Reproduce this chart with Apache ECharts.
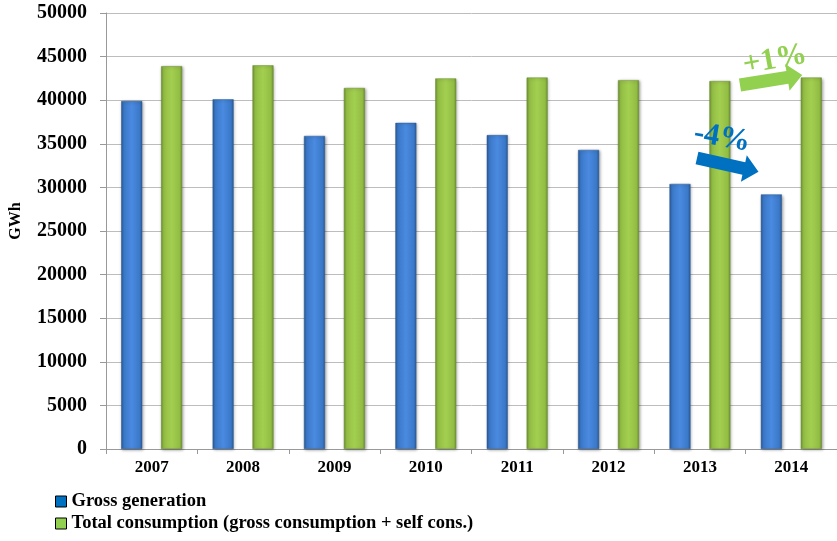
<!DOCTYPE html>
<html>
<head>
<meta charset="utf-8">
<script src="https://cdn.jsdelivr.net/npm/echarts@6/dist/echarts.min.js"></script>
<style>html,body{margin:0;padding:0;background:#fff}#c{width:837px;height:541px}</style>
</head>
<body>
<div id="c"></div>
<script>
var years = ['2007','2008','2009','2010','2011','2012','2013','2014'];
var grossGeneration = [39900, 40100, 35900, 37400, 36000, 34300, 30400, 29200];
var totalConsumption = [43900, 44000, 41400, 42500, 42600, 42300, 42200, 42600];
var seriesNames = ['Gross generation', 'Total consumption (gross consumption + self cons.)'];
var yTicks = [0, 50000, 5000];

var FONT = '"Liberation Serif", "Times New Roman", serif';
var chart = echarts.init(document.getElementById('c'));

function barGrad(edge, mid, light) {
  return new echarts.graphic.LinearGradient(0, 0, 1, 0, [
    {offset: 0, color: edge},
    {offset: 0.12, color: mid},
    {offset: 0.5, color: light},
    {offset: 0.88, color: mid},
    {offset: 1, color: edge}
  ]);
}

function arrow(x, y, len, shaft, headLen, headW, angle, color) {
  var h = shaft / 2, hw = headW / 2;
  var pts = [[0, -h], [len - headLen, -h], [len - headLen, -hw], [len, 0], [len - headLen, hw], [len - headLen, h], [0, h]];
  return {
    type: 'polygon', x: x, y: y, rotation: angle, originX: 0, originY: 0,
    shape: {points: pts}, style: {fill: color}, z: 100
  };
}

chart.setOption({
  animation: false,
  grid: {left: 106, right: 0, top: 13, bottom: 92, containLabel: false},
  legend: {
    orient: 'vertical', left: 55, top: 492, itemWidth: 11, itemHeight: 11, itemGap: 3,
    icon: 'rect', padding: 0,
    textStyle: {fontFamily: FONT, fontWeight: 'bold', fontSize: 18.5, color: '#000'},
    data: [
      {name: seriesNames[0], itemStyle: {color: '#0070c0', borderColor: '#000', borderWidth: 1}},
      {name: seriesNames[1], itemStyle: {color: '#92d050', borderColor: '#000', borderWidth: 1}}
    ]
  },
  xAxis: {
    type: 'category', data: years,
    axisLine: {lineStyle: {color: '#999'}},
    axisTick: {show: true, length: 5, lineStyle: {color: '#999'}},
    axisLabel: {fontFamily: FONT, fontWeight: 'bold', fontSize: 17, color: '#000', margin: 10}
  },
  yAxis: {
    type: 'value', min: yTicks[0], max: yTicks[1], interval: yTicks[2],
    name: 'GWh', nameLocation: 'middle', nameGap: 82, nameRotate: 90,
    nameTextStyle: {fontFamily: FONT, fontWeight: 'bold', fontSize: 16, color: '#000', padding: [0, 0, 0, 20]},
    axisLine: {show: true, lineStyle: {color: '#999'}},
    axisTick: {show: true, length: 6, lineStyle: {color: '#999'}},
    axisLabel: {fontFamily: FONT, fontWeight: 'bold', fontSize: 20, color: '#000', margin: 19,
      formatter: function (v) { return String(v); }},
    splitLine: {lineStyle: {color: '#bdbdbd', width: 1}}
  },
  series: [
    {
      name: seriesNames[0], type: 'bar', data: grossGeneration, barWidth: 21, barGap: '90%',
      itemStyle: {color: barGrad('#2c5a96', '#3a78c8', '#4a8ae0'), borderColor: '#2a5a94', borderWidth: 0.5,
        shadowColor: 'rgba(0,0,0,0.35)', shadowBlur: 3, shadowOffsetX: 1, shadowOffsetY: 1}
    },
    {
      name: seriesNames[1], type: 'bar', data: totalConsumption, barWidth: 21,
      itemStyle: {color: barGrad('#6f9232', '#92bd44', '#a3cf50'), borderColor: '#6b8c30', borderWidth: 0.5,
        shadowColor: 'rgba(0,0,0,0.35)', shadowBlur: 3, shadowOffsetX: 1, shadowOffsetY: 1}
    }
  ],
  graphic: [
    arrow(740, 85, 63, 13, 15, 27, 0.16, '#92d050'),
    {type: 'text', x: 775, y: 60, rotation: 0.18, originX: 0, originY: 0, z: 100,
      style: {text: '+1%', fontFamily: FONT, fontWeight: 'bold', fontSize: 31, fill: '#92d050', align: 'center', verticalAlign: 'middle'}},
    arrow(697, 158, 63, 13, 15, 27, -0.22, '#0070c0'),
    {type: 'text', x: 722, y: 138, rotation: -0.17, originX: 0, originY: 0, z: 100,
      style: {text: '-4%', fontFamily: FONT, fontWeight: 'bold', fontSize: 31, fill: '#0070c0', align: 'center', verticalAlign: 'middle'}}
  ]
});
</script>
</body>
</html>
